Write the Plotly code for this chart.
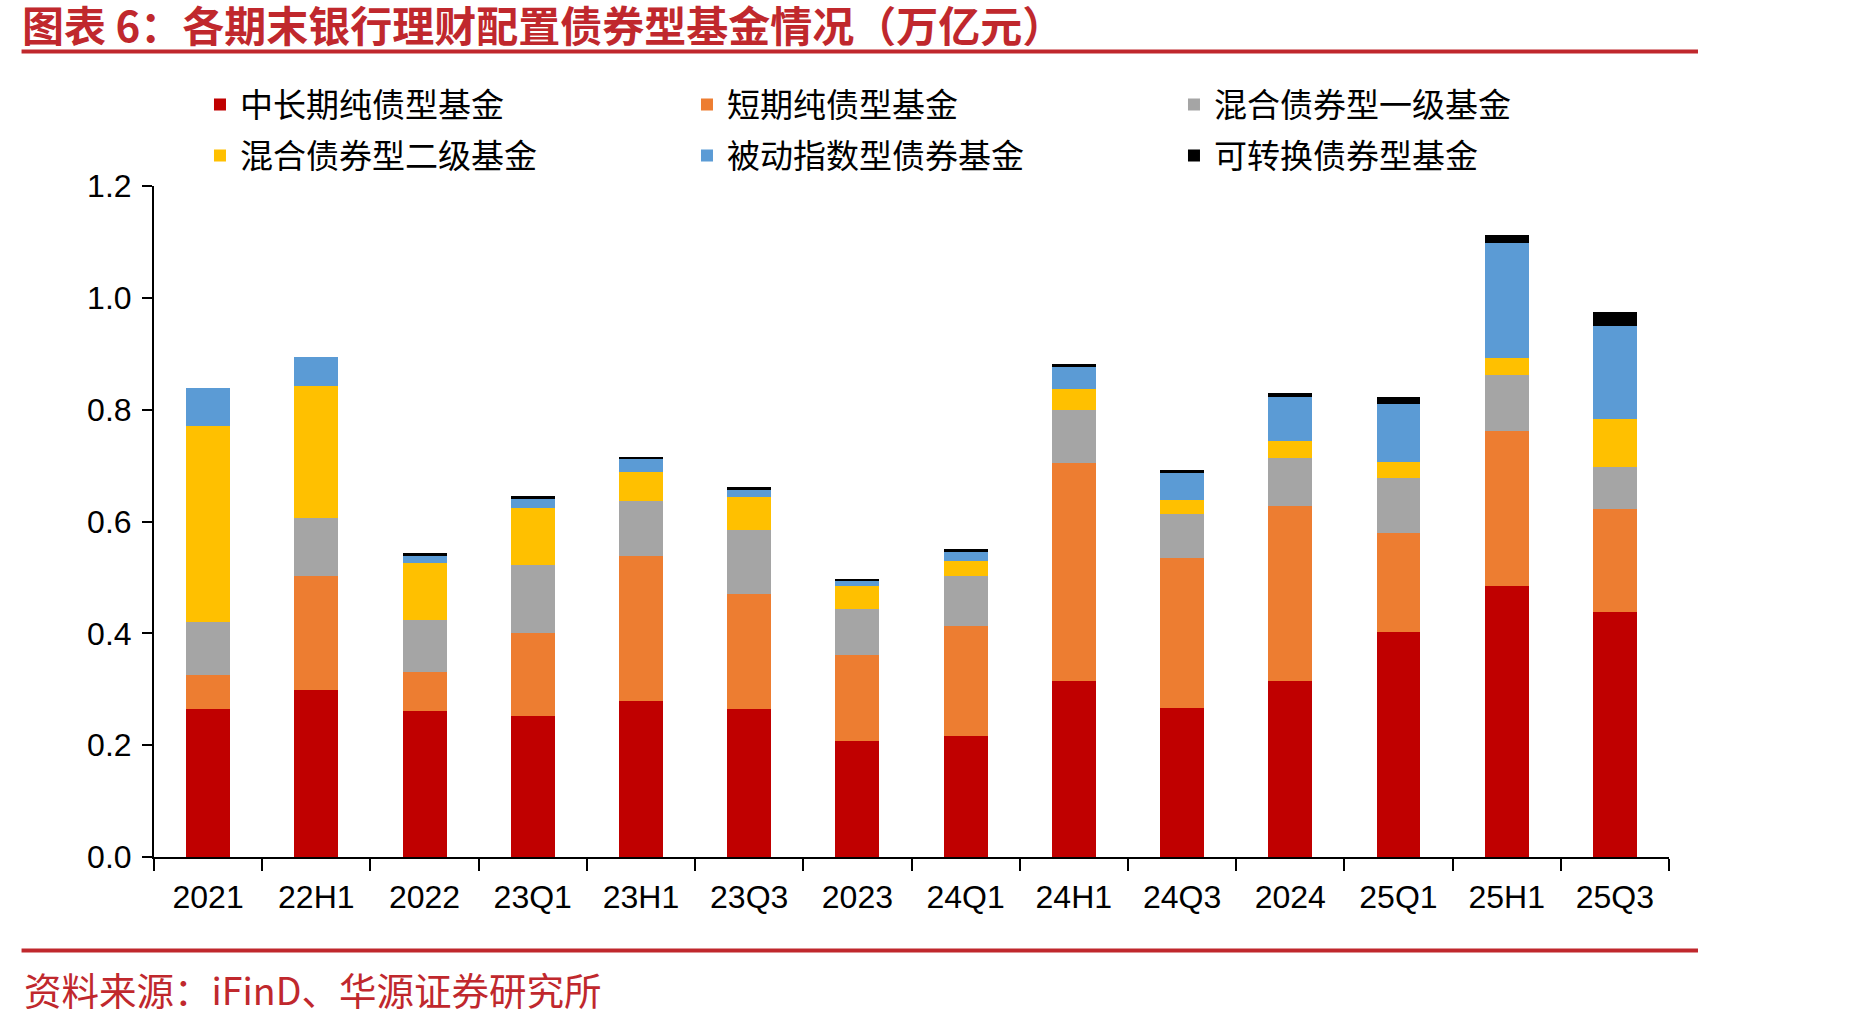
import plotly.graph_objects as go

categories = ["2021", "22H1", "2022", "23Q1", "23H1", "23Q3", "2023",
              "24Q1", "24H1", "24Q3", "2024", "25Q1", "25H1", "25Q3"]

mid_long_pure = [0.265, 0.299, 0.262, 0.253, 0.279, 0.265, 0.208,
                 0.217, 0.314, 0.267, 0.315, 0.403, 0.484, 0.438]
short_pure = [0.060, 0.204, 0.068, 0.147, 0.259, 0.205, 0.153,
              0.196, 0.390, 0.268, 0.312, 0.177, 0.278, 0.184]
mixed_first = [0.095, 0.103, 0.094, 0.123, 0.099, 0.114, 0.083,
               0.090, 0.096, 0.078, 0.087, 0.098, 0.100, 0.076]
mixed_second = [0.351, 0.236, 0.102, 0.101, 0.052, 0.059, 0.040,
                0.027, 0.037, 0.026, 0.030, 0.028, 0.030, 0.086]
passive_index = [0.068, 0.052, 0.014, 0.018, 0.023, 0.015, 0.011,
                 0.017, 0.041, 0.048, 0.079, 0.104, 0.206, 0.166]
convertible = [0.0, 0.0, 0.003, 0.003, 0.003, 0.003, 0.002,
               0.003, 0.003, 0.005, 0.007, 0.013, 0.014, 0.025]

series_names = ["中长期纯债型基金", "短期纯债型基金", "混合债券型一级基金",
                "混合债券型二级基金", "被动指数型债券基金", "可转换债券型基金"]
series_values = [mid_long_pure, short_pure, mixed_first,
                 mixed_second, passive_index, convertible]
series_colors = ["#C00000", "#ED7D31", "#A5A5A5", "#FFC000", "#5B9BD5", "#000000"]
series_legend = ["legend", "legend", "legend", "legend2", "legend2", "legend2"]

y_ticks = [0.0, 0.2, 0.4, 0.6, 0.8, 1.0, 1.2]
y_tick_labels = ["0.0", "0.2", "0.4", "0.6", "0.8", "1.0", "1.2"]

W, H = 1851, 1023
L, R, T, B = 153.5, 182, 185.6, 165.6
pw = W - L - R
ph = H - T - B


def px_x(px):
    return (px - L) / pw


def px_y(py):
    return (H - B - py) / ph


fig = go.Figure()
for name, vals, col, lg in zip(series_names, series_values, series_colors, series_legend):
    fig.add_trace(go.Bar(x=categories, y=vals, name=name, legend=lg,
                         marker=dict(color=col, line=dict(width=0))))

cjk = "Noto Sans CJK SC"
red = "#C0282D"

legend_common = dict(orientation="h", xanchor="left", yanchor="middle",
                     x=px_x(199.5), font=dict(family=cjk, size=33, color="#000000"),
                     entrywidth=442, entrywidthmode="pixels",
                     bgcolor="rgba(0,0,0,0)", traceorder="normal", itemclick=False)

tick_font = dict(family="Liberation Sans, Arial", size=32, color="#000000")

fig.update_layout(
    width=W, height=H,
    margin=dict(l=L, r=R, t=T, b=B, autoexpand=False),
    paper_bgcolor="white", plot_bgcolor="white",
    barmode="stack", bargap=0.594,
    showlegend=True,
    legend=dict(y=px_y(104), **legend_common),
    legend2=dict(y=px_y(155), **legend_common),
    xaxis=dict(
        type="category", showgrid=False, zeroline=False,
        showline=True, linecolor="#000000", linewidth=2,
        ticks="outside", tickson="boundaries", ticklen=12, tickwidth=2,
        tickcolor="#000000", ticklabelstandoff=11,
        tickfont=tick_font,
    ),
    yaxis=dict(
        range=[0, 1.2], showgrid=False, zeroline=False,
        showline=True, linecolor="#000000", linewidth=2,
        ticks="outside", ticklen=10, tickwidth=2, tickcolor="#000000",
        ticklabelstandoff=4,
        tickvals=y_ticks, ticktext=y_tick_labels,
        tickfont=tick_font,
    ),
    shapes=[
        dict(type="line", xref="paper", yref="paper",
             x0=px_x(21), x1=px_x(1698), y0=px_y(51), y1=px_y(51),
             line=dict(color=red, width=4)),
        dict(type="line", xref="paper", yref="paper",
             x0=px_x(21), x1=px_x(1698), y0=px_y(951), y1=px_y(951),
             line=dict(color=red, width=4)),
    ],
    annotations=[
        dict(text="<b>图表 6：各期末银行理财配置债券型基金情况（万亿元）</b>",
             xref="paper", yref="paper", x=px_x(20), y=px_y(23),
             xanchor="left", yanchor="middle", showarrow=False, borderpad=0,
             font=dict(family=cjk, size=42, color=red)),
        dict(text="资料来源：iFinD、华源证券研究所",
             xref="paper", yref="paper", x=px_x(21), y=px_y(989),
             xanchor="left", yanchor="middle", showarrow=False,
             font=dict(family=cjk, size=37.5, color=red)),
    ],
)

fig.write_html("out.html")
